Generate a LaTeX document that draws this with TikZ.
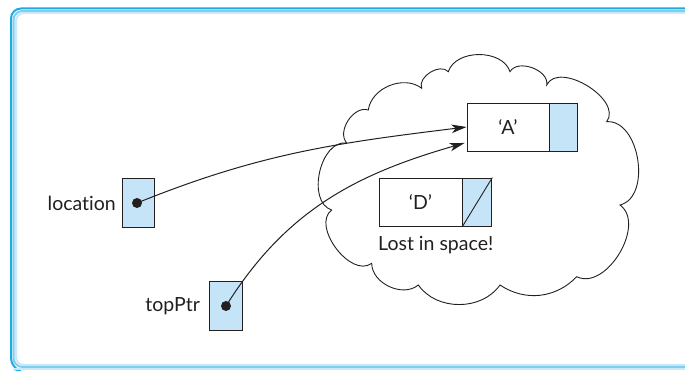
\documentclass[tikz,border=0pt]{standalone}
\usepackage{fontspec}
\setmainfont{Lato}[Ligatures={NoCommon}]
\usetikzlibrary{arrows.meta}
\definecolor{frameblue}{HTML}{1EAAE2}
\definecolor{framemid}{HTML}{7FCDEF}
\definecolor{framelight}{HTML}{C9E9F8}
\definecolor{boxblue}{HTML}{C6E4F7}
\definecolor{ink}{HTML}{231F20}
\begin{document}
\begin{tikzpicture}[x=1pt,y=1pt,
  every node/.style={font=\fontsize{19.5}{22}\selectfont, text=ink},
  databox/.style={draw=ink, line width=0.9pt, fill=white},
  ptrbox/.style={draw=ink, line width=0.9pt, fill=boxblue},
  link/.style={draw=ink, line width=1pt, -{Stealth[length=15pt,width=8.5pt,inset=4pt]}},
  cloudline/.style={draw=ink, line width=0.9pt}]
\useasboundingbox (0,0) rectangle (685,371);
% frame
\draw[framelight, line width=2pt, rounded corners=8pt] (686,358) -- (16,358) -- (16,6) -- (686,6);
\draw[framemid, line width=2pt, rounded corners=9pt] (686,360) -- (13.5,360) -- (13.5,4) -- (686,4);
\draw[frameblue, line width=2pt, rounded corners=10pt] (686,362.5) -- (11,362.5) -- (11,3) -- (14,2);
\draw[framelight, line width=2pt] (14,2) -- (686,2);
% cloud
\coordinate (n1) at (346.7,228);
\coordinate (n2) at (331.7,161);
\coordinate (n3) at (371.7,107.7);
\coordinate (n4) at (418.3,86);
\coordinate (n5) at (500,86);
\coordinate (n6) at (576.7,94.3);
\coordinate (n7) at (620,166);
\coordinate (n8) at (606.7,249.3);
\coordinate (n9) at (546.7,286);
\coordinate (n10) at (510,299.3);
\coordinate (n11) at (448.3,299.3);
\coordinate (n12) at (421.7,282.7);
\coordinate (n13) at (368.3,261);
\draw[cloudline] (n1) to[bend right=85] (n2) to[bend right=90] (n3)
  to[bend right=65] (n4) to[bend right=55] (n5) to[bend right=40] (n6)
  to[bend right=85] (n7) to[bend right=85] (n8) to[bend right=95] (n9)
  to[bend right=80] (n10) to[bend right=72] (n11) to[bend right=80] (n12)
  to[bend right=60] (n13) to[bend right=75] (n1);
% A node
\node[databox, minimum width=82pt, minimum height=48pt, inner sep=0pt] (Ad) at (508,244) {‘A’};
\node[ptrbox, minimum width=28pt, minimum height=48pt, inner sep=0pt, anchor=west] (Ap) at (Ad.east) {};
% D node
\node[databox, minimum width=83pt, minimum height=48pt, inner sep=0pt] (Dd) at (420.5,169) {‘D’};
\node[ptrbox, minimum width=29pt, minimum height=48pt, inner sep=0pt, anchor=west] (Dp) at (Dd.east) {};
\draw[ink, line width=0.9pt] (Dp.south west) -- (Dp.north east);
\node[anchor=north west, inner sep=0pt] (lost) at (378,135) {Lost in space!};
% location
\node[ptrbox, minimum width=32pt, minimum height=49pt, inner sep=0pt] (loc) at (138,168.5) {};
\fill[ink] (137,168) circle (5pt) coordinate (locdot);
\node[anchor=east, inner sep=0pt] (loclabel) at (116,168) {location};
% topPtr
\node[ptrbox, minimum width=33pt, minimum height=49pt, inner sep=0pt] (top) at (225.5,65.5) {};
\fill[ink] (226,65) circle (5pt) coordinate (topdot);
\node[anchor=east, inner sep=0pt] (toplabel) at (200,65) {topPtr};
% links
\coordinate (Ain1) at ([yshift=0pt]Ad.west);
\coordinate (Ain2) at ([yshift=-16pt,xshift=-2pt]Ad.west);
\draw[link] (locdot) to[out=22,in=187] (Ain1);
\draw[link] (topdot) to[out=58,in=196] (Ain2);
\end{tikzpicture}
\end{document}
